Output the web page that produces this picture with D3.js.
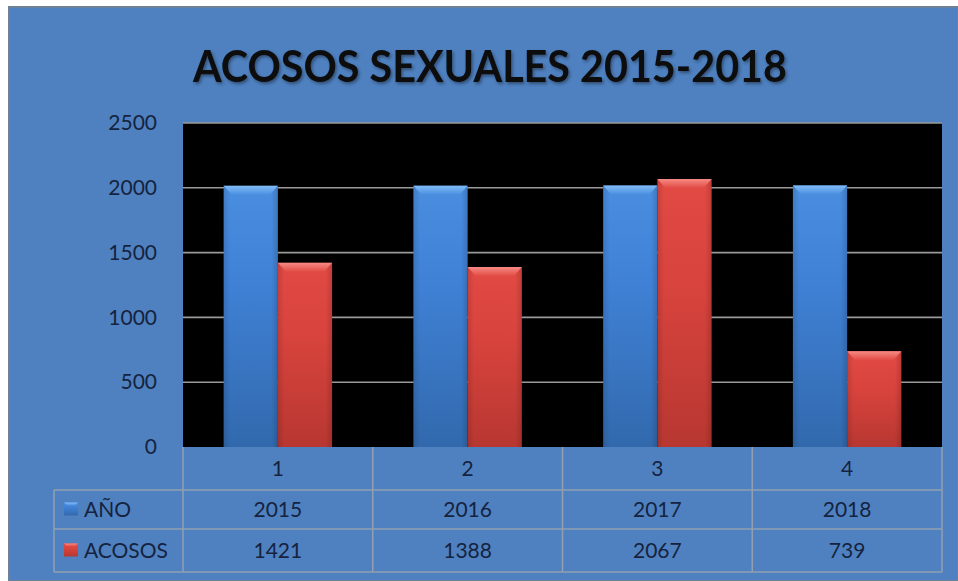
<!DOCTYPE html>
<html>
<head>
<meta charset="utf-8">
<script src="https://cdn.jsdelivr.net/npm/d3@7"></script>
<style>
  body { margin: 0; background: #ffffff; }
  svg { display: block; font-family: Lato, "Open Sans", sans-serif; }
</style>
</head>
<body>
<svg id="chart" width="958" height="581"></svg>
<script>
// Chart data
const categories = ['1', '2', '3', '4'];
const seriesNames = ['AÑO', 'ACOSOS'];
const anoValues = [2015, 2016, 2017, 2018];
const acososValues = [1421, 1388, 2067, 739];
const yTicks = [0, 500, 1000, 1500, 2000, 2500];

const svg = d3.select('#chart');
const textColor = '#15233f';
const lineColor = '#92a0b2';

// Plot box
const plot = { left: 183, right: 942, top: 123, bottom: 447 };
const tableLeft = 54;
const rowEdges = [447, 490, 529, 572];

const defs = svg.append('defs');

function barGradient(id, top, mid, bottom) {
  const g = defs.append('linearGradient').attr('id', id)
    .attr('x1', 0).attr('y1', 0).attr('x2', 0).attr('y2', 1);
  g.append('stop').attr('offset', '0%').attr('stop-color', top);
  g.append('stop').attr('offset', '40%').attr('stop-color', mid);
  g.append('stop').attr('offset', '100%').attr('stop-color', bottom);
}
barGradient('gradBlue', '#4a8ee0', '#3f80d4', '#3269ad');
barGradient('gradRed', '#e24a44', '#d8433d', '#b83731');

function bevelGradient(id, light, base) {
  const g = defs.append('linearGradient').attr('id', id)
    .attr('x1', 0).attr('y1', 0).attr('x2', 0).attr('y2', 1);
  g.append('stop').attr('offset', '0%').attr('stop-color', light);
  g.append('stop').attr('offset', '100%').attr('stop-color', base);
}
bevelGradient('bevelBlue', '#80bcf6', '#4a8ee0');
bevelGradient('bevelRed', '#f68a84', '#e24a44');

const sideGrad = defs.append('linearGradient').attr('id', 'sideShade')
  .attr('x1', 0).attr('y1', 0).attr('x2', 1).attr('y2', 0);
sideGrad.append('stop').attr('offset', '0%').attr('stop-color', '#000').attr('stop-opacity', 0.12);
sideGrad.append('stop').attr('offset', '12%').attr('stop-color', '#000').attr('stop-opacity', 0);
sideGrad.append('stop').attr('offset', '88%').attr('stop-color', '#000').attr('stop-opacity', 0);
sideGrad.append('stop').attr('offset', '100%').attr('stop-color', '#000').attr('stop-opacity', 0.15);

const shadow = defs.append('filter').attr('id', 'titleShadow')
  .attr('x', '-5%').attr('y', '-20%').attr('width', '110%').attr('height', '150%');
shadow.append('feDropShadow').attr('dx', 1.5).attr('dy', 2).attr('stdDeviation', 1.5)
  .attr('flood-color', '#1a2a40').attr('flood-opacity', 0.6);

// Background frame
svg.append('rect')
  .attr('x', 9).attr('y', 7).attr('width', 958 - 9).attr('height', 581 - 7)
  .attr('fill', '#4f81c0')
  .attr('stroke', '#6d8199').attr('stroke-width', 2);

// Title
svg.append('text')
  .attr('x', 193).attr('y', 82)
  .attr('textLength', 594).attr('lengthAdjust', 'spacingAndGlyphs')
  .attr('font-size', 44).attr('font-weight', 'bold')
  .attr('fill', '#0a0a0a')
  .attr('filter', 'url(#titleShadow)')
  .text('ACOSOS SEXUALES 2015-2018');

// Scales
const x = d3.scaleBand().domain(categories).range([plot.left, plot.right]);
const y = d3.scaleLinear().domain([0, 2500]).range([plot.bottom, plot.top]);

// Plot background
svg.append('rect')
  .attr('x', plot.left).attr('y', plot.top)
  .attr('width', plot.right - plot.left).attr('height', plot.bottom - plot.top)
  .attr('fill', '#000000');

// Gridlines
svg.append('g').selectAll('line')
  .data(yTicks.filter(d => d > 0))
  .join('line')
  .attr('x1', plot.left).attr('x2', plot.right)
  .attr('y1', d => y(d)).attr('y2', d => y(d))
  .attr('stroke', '#9a9a9a').attr('stroke-width', 1.6);

// Y axis
const yAxis = svg.append('g')
  .attr('transform', `translate(${plot.left - 26},0)`)
  .call(d3.axisLeft(y).tickValues(yTicks).tickFormat(d3.format('d')).tickSize(0).tickPadding(0));
yAxis.select('.domain').remove();
yAxis.selectAll('text')
  .attr('font-size', 21).attr('fill', textColor)
  .attr('font-family', 'Lato, "Open Sans", sans-serif');

// Bars
const bandW = x.bandwidth();
const barW = bandW / (2 + 1.5);
const series = [
  { name: seriesNames[0], values: anoValues, fill: 'url(#gradBlue)', bevel: 'url(#bevelBlue)' },
  { name: seriesNames[1], values: acososValues, fill: 'url(#gradRed)', bevel: 'url(#bevelRed)' },
];

series.forEach((s, si) => {
  const g = svg.append('g');
  const rows = categories.map((c, i) => ({
    x: x(c) + bandW / 2 - barW + si * barW,
    y: y(s.values[i]),
    h: plot.bottom - y(s.values[i]),
  }));
  g.selectAll('rect.bar')
    .data(rows)
    .join('rect')
    .attr('class', 'bar')
    .attr('x', d => d.x).attr('y', d => d.y)
    .attr('width', barW).attr('height', d => d.h)
    .attr('fill', s.fill);
  g.selectAll('rect.side')
    .data(rows)
    .join('rect')
    .attr('class', 'side')
    .attr('x', d => d.x).attr('y', d => d.y)
    .attr('width', barW).attr('height', d => d.h)
    .attr('fill', 'url(#sideShade)');
  // Top bevel
  g.selectAll('path.bevel')
    .data(rows)
    .join('path')
    .attr('class', 'bevel')
    .attr('d', d => `M${d.x},${d.y}L${d.x + barW},${d.y}L${d.x + barW - 8},${d.y + 9}L${d.x + 8},${d.y + 9}Z`)
    .attr('fill', s.bevel);
});

// Data table
const table = svg.append('g');
const hLines = [rowEdges[1], rowEdges[2], rowEdges[3]];
table.selectAll('line.h')
  .data(hLines)
  .join('line')
  .attr('x1', tableLeft).attr('x2', plot.right)
  .attr('y1', d => d).attr('y2', d => d)
  .attr('stroke', lineColor).attr('stroke-width', 1.5);

const colEdges = categories.map(c => x(c)).concat([plot.right]);
table.selectAll('line.v')
  .data(colEdges)
  .join('line')
  .attr('x1', d => d).attr('x2', d => d)
  .attr('y1', rowEdges[0]).attr('y2', rowEdges[3])
  .attr('stroke', lineColor).attr('stroke-width', 1.5);
table.append('line')
  .attr('x1', tableLeft).attr('x2', tableLeft)
  .attr('y1', rowEdges[1]).attr('y2', rowEdges[3])
  .attr('stroke', lineColor).attr('stroke-width', 1.5);

// Category labels
table.selectAll('text.cat')
  .data(categories)
  .join('text')
  .attr('x', d => x(d) + bandW / 2)
  .attr('y', (rowEdges[0] + rowEdges[1]) / 2 + 7)
  .attr('text-anchor', 'middle')
  .attr('font-size', 21).attr('fill', textColor)
  .text(d => d);

// Value rows
series.forEach((s, si) => {
  const rowMid = (rowEdges[si + 1] + rowEdges[si + 2]) / 2;
  table.selectAll(`text.val${si}`)
    .data(s.values)
    .join('text')
    .attr('x', (d, i) => x(categories[i]) + bandW / 2)
    .attr('y', rowMid + 7)
    .attr('text-anchor', 'middle')
    .attr('font-size', 21).attr('fill', textColor)
    .text(d => d);

  // Legend key
  table.append('rect')
    .attr('x', 64).attr('y', rowMid - 7)
    .attr('width', 14).attr('height', 13)
    .attr('fill', s.fill);
  table.append('path')
    .attr('d', `M64,${rowMid - 7}L78,${rowMid - 7}L75,${rowMid - 4}L67,${rowMid - 4}Z`)
    .attr('fill', s.bevel);
  table.append('text')
    .attr('x', 84).attr('y', rowMid + 7)
    .attr('font-size', 21).attr('fill', textColor)
    .text(s.name);
});
</script>
</body>
</html>
